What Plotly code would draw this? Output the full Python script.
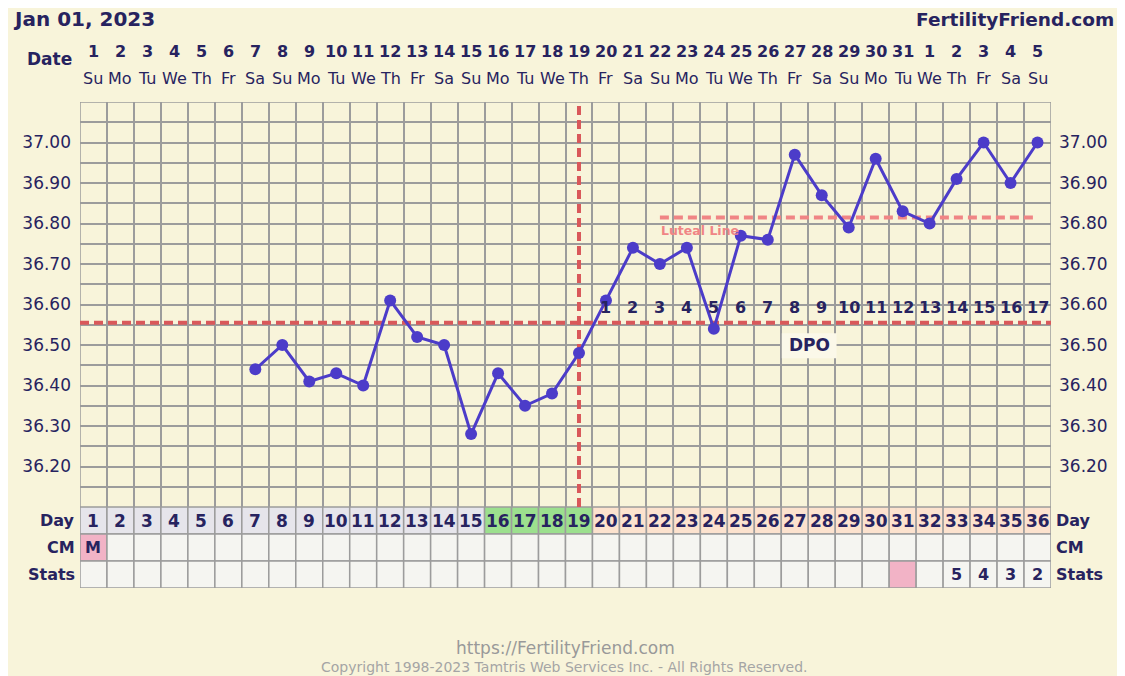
import plotly.graph_objects as go

# ---------------- data ----------------
cycle_days = list(range(1, 37))
date_nums = list(range(1, 32)) + [1, 2, 3, 4, 5]
weekday_cycle = ["Su", "Mo", "Tu", "We", "Th", "Fr", "Sa"]
weekdays = [weekday_cycle[i % 7] for i in range(36)]

temp_days = list(range(7, 37))
temps = [36.44, 36.50, 36.41, 36.43, 36.40, 36.61, 36.52, 36.50, 36.28, 36.43,
         36.35, 36.38, 36.48, 36.61, 36.74, 36.70, 36.74, 36.54, 36.77, 36.76,
         36.97, 36.87, 36.79, 36.96, 36.83, 36.80, 36.91, 37.00, 36.90, 37.00]

coverline = 36.555
luteal_line = 36.815
luteal_start_day = 22
ovulation_day = 19
fertile_days = [16, 17, 18, 19]
dpo_days = list(range(20, 37))
dpo_labels = [str(i) for i in range(1, 18)]
cm_days = [1]
cm_labels = ["M"]
stats_highlight_days = [31]
stats_days = [33, 34, 35, 36]
stats_labels = ["5", "4", "3", "2"]

y_ticks = [36.20, 36.30, 36.40, 36.50, 36.60, 36.70, 36.80, 36.90, 37.00]
y_grid = [round(36.10 + 0.05 * i, 2) for i in range(21)]

# ---------------- styling ----------------
OFF = 8  # page body margin
W, H = 1125 - OFF, 676 - OFF
L, R, T, B = 80 - OFF, 74, 102 - OFF, 88
PW, PH = W - L - R, H - T - B
TABLE_H = 81
BG = "#F8F4DA"
NAVY = "#27235F"
GRID = "#9C9C9C"
LINE = "#4C3CC9"
RED = "#D9585A"
SALMON = "#F08585"
FONT = "DejaVu Sans"


def px(p):
    return (p - OFF - L) / PW


def py(p):
    return (H - B - (p - OFF)) / PH


fig = go.Figure()

fig.add_trace(go.Scatter(
    x=temp_days, y=temps, mode="lines+markers",
    line=dict(color=LINE, width=3),
    marker=dict(color=LINE, size=12),
    hoverinfo="skip", showlegend=False))
# dummy traces to activate the right axis and table axis
fig.add_trace(go.Scatter(x=[1], y=[36.0], yaxis="y3", mode="markers",
                         marker=dict(opacity=0), showlegend=False, hoverinfo="skip"))
fig.add_trace(go.Scatter(x=[1], y=[-1], yaxis="y2", mode="markers",
                         marker=dict(opacity=0), showlegend=False, hoverinfo="skip"))

ticktext = [("%.2f" % v) if any(abs(v - t) < 1e-6 for t in y_ticks) else "" for v in y_grid]
tickfont = dict(family=FONT, size=17, color=NAVY)

fig.update_layout(
    width=W, height=H,
    margin=dict(l=L, r=R, t=T, b=B, autoexpand=False),
    paper_bgcolor=BG, plot_bgcolor=BG,
    showlegend=False,
    xaxis=dict(range=[0.5, 36.5], tickvals=[i + 0.5 for i in range(37)],
               showticklabels=False, ticks="", showgrid=True, gridcolor=GRID,
               gridwidth=1.5, zeroline=False, fixedrange=True),
    yaxis=dict(domain=[TABLE_H / PH, 1], range=[36.10, 37.10], tickvals=y_grid,
               ticktext=ticktext, ticks="", ticklabelstandoff=8, tickfont=tickfont,
               showgrid=True, gridcolor=GRID, gridwidth=1.5, zeroline=False),
    yaxis3=dict(overlaying="y", side="right", anchor="x", range=[36.10, 37.10],
                tickvals=y_grid, ticktext=ticktext, ticks="", ticklabelstandoff=7,
                tickfont=tickfont, showgrid=False, zeroline=False),
    yaxis2=dict(domain=[0, TABLE_H / PH], range=[0, 3], showticklabels=False,
                ticks="", showgrid=False, zeroline=False, anchor="x"),
)

shapes = []
annotations = []

# outer border of temperature grid
shapes.append(dict(type="rect", xref="x", yref="y", x0=0.5, x1=36.5, y0=36.10, y1=37.10,
                   line=dict(color=GRID, width=1.5), fillcolor="rgba(0,0,0,0)", layer="between"))

# coverline
shapes.append(dict(type="line", xref="x", yref="y", x0=0.5, x1=36.5, y0=coverline, y1=coverline,
                   line=dict(color=RED, width=4, dash="9px,5px"), layer="between"))
# ovulation line
shapes.append(dict(type="line", xref="x", yref="y", x0=ovulation_day, x1=ovulation_day,
                   y0=36.10, y1=37.10, line=dict(color=RED, width=4, dash="9px,5px"), layer="between"))
# luteal line
shapes.append(dict(type="line", xref="x", yref="y", x0=luteal_start_day, x1=36, y0=luteal_line,
                   y1=luteal_line, line=dict(color=SALMON, width=4, dash="9px,5px"), layer="between"))
annotations.append(dict(xref="x", yref="y", x=luteal_start_day - 0.05, y=36.782, text="Luteal Line",
                        showarrow=False, xanchor="left", yanchor="middle",
                        font=dict(family=FONT, size=12.5, color=SALMON, weight="bold")))

# DPO box and numbers
shapes.append(dict(type="rect", xref="x", yref="y", x0=26.52, x1=28.55, y0=36.467, y1=36.529,
                   fillcolor="#FBF8E9", line=dict(width=0), layer="between"))
annotations.append(dict(xref="x", yref="y", x=27.53, y=36.499, text="DPO", showarrow=False,
                        font=dict(family=FONT, size=17, color=NAVY, weight="bold")))
for d, lab in zip(dpo_days, dpo_labels):
    annotations.append(dict(xref="x", yref="y", x=d, y=36.593, text=lab, showarrow=False,
                            font=dict(family=FONT, size=16, color=NAVY, weight="bold")))

# table
for d in cycle_days:
    if d in fertile_days:
        day_fill = "#9CE08E"
    elif d > ovulation_day:
        day_fill = "#FCE2CE"
    else:
        day_fill = "#E6E5EB"
    cm_fill = "#F2B3C6" if d in cm_days else "#F5F5F1"
    st_fill = "#F2B3C6" if d in stats_highlight_days else "#F5F5F1"
    for row, fill in ((2, day_fill), (1, cm_fill), (0, st_fill)):
        shapes.append(dict(type="rect", xref="x", yref="y2", x0=d - 0.5, x1=d + 0.5,
                           y0=row, y1=row + 1, fillcolor=fill,
                           line=dict(color=GRID, width=1.5), layer="above"))
    annotations.append(dict(xref="x", yref="y2", x=d, y=2.5, text=str(d), showarrow=False,
                            font=dict(family=FONT, size=17, color=NAVY, weight="bold")))
for d, lab in zip(cm_days, cm_labels):
    annotations.append(dict(xref="x", yref="y2", x=d, y=1.5, text=lab, showarrow=False,
                            font=dict(family=FONT, size=16, color=NAVY, weight="bold")))
for d, lab in zip(stats_days, stats_labels):
    annotations.append(dict(xref="x", yref="y2", x=d, y=0.5, text=lab, showarrow=False,
                            font=dict(family=FONT, size=16, color=NAVY, weight="bold")))

for row, lab in ((2.5, "Day"), (1.5, "CM"), (0.5, "Stats")):
    annotations.append(dict(xref="paper", yref="y2", x=px(77), y=row, text=lab, showarrow=False,
                            xanchor="right", yanchor="middle",
                            font=dict(family=FONT, size=16, color=NAVY, weight="bold")))
    annotations.append(dict(xref="paper", yref="y2", x=px(1054), y=row, text=lab, showarrow=False,
                            xanchor="left", yanchor="middle",
                            font=dict(family=FONT, size=16, color=NAVY, weight="bold")))

# date header
annotations.append(dict(xref="paper", yref="paper", x=px(74), y=py(59), text="Date", showarrow=False,
                        xanchor="right", yanchor="middle",
                        font=dict(family=FONT, size=17, color=NAVY, weight="bold")))
for d, n, w in zip(cycle_days, date_nums, weekdays):
    annotations.append(dict(xref="x", yref="paper", x=d, y=py(52), text=str(n), showarrow=False,
                            yanchor="middle",
                            font=dict(family=FONT, size=16, color=NAVY, weight="bold")))
    annotations.append(dict(xref="x", yref="paper", x=d, y=py(78), text=w, showarrow=False,
                            yanchor="middle",
                            font=dict(family=FONT, size=16, color=NAVY)))

# title / brand
annotations.append(dict(xref="paper", yref="paper", x=px(11), y=py(19), text="Jan 01, 2023",
                        showarrow=False, xanchor="left", yanchor="middle",
                        font=dict(family=FONT, size=20, color=NAVY, weight="bold")))
annotations.append(dict(xref="paper", yref="paper", x=px(1116), y=py(19), text="FertilityFriend.com",
                        showarrow=False, xanchor="right", yanchor="middle",
                        font=dict(family=FONT, size=18.5, color=NAVY, weight="bold")))

# footer
annotations.append(dict(xref="paper", yref="paper", x=px(565), y=py(648),
                        text="https://FertilityFriend.com", showarrow=False,
                        xanchor="center", yanchor="middle",
                        font=dict(family=FONT, size=17, color="#999999")))
annotations.append(dict(xref="paper", yref="paper", x=px(564), y=py(667),
                        text="Copyright 1998-2023 Tamtris Web Services Inc. - All Rights Reserved.",
                        showarrow=False, xanchor="center", yanchor="middle",
                        font=dict(family=FONT, size=14, color="#A5A5A5")))

fig.update_layout(shapes=shapes, annotations=annotations)
fig.write_html("out.html")
